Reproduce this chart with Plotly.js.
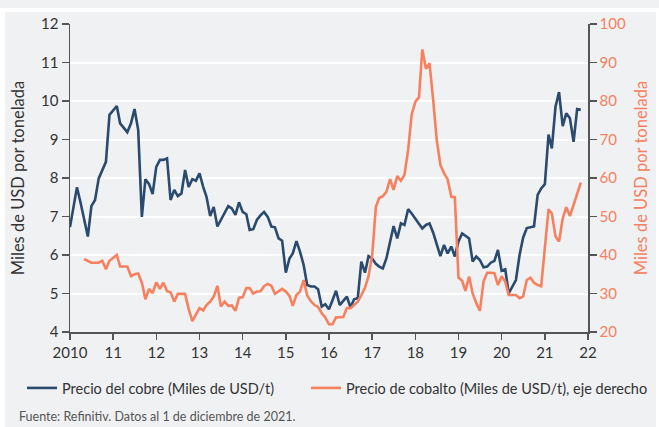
<!DOCTYPE html>
<html><head><meta charset="utf-8">
<script src="https://cdn.plot.ly/plotly-3.0.1.min.js"></script>
<style>
html,body{margin:0;padding:0;background:#ffffff;}
#wrap{position:relative;width:659px;height:427px;overflow:hidden;}
#band1{position:absolute;left:0;top:0;width:659px;height:8px;background:#f0f1f3;}
#band2{position:absolute;left:5px;top:12px;width:651px;height:415px;background:#f0f1f3;}
#chart{position:absolute;left:0;top:0;width:659px;height:427px;}
</style></head>
<body><div id="wrap"><div id="band1"></div><div id="band2"></div><div id="chart"></div></div>
<script>
const copperStart = [2010, 1];
const copper = [6.73,7.25,7.76,7.35,6.9,6.48,7.27,7.43,7.99,8.2,
 8.42,9.64,9.75,9.87,9.42,9.3,9.19,9.42,9.79,9.25,
 6.99,7.97,7.84,7.58,8.29,8.47,8.47,8.51,7.43,7.69,
 7.53,7.6,8.21,7.77,7.97,7.93,8.12,7.77,7.51,7.01,
 7.25,6.74,6.91,7.1,7.27,7.21,7.04,7.37,7.12,7.06,
 6.65,6.67,6.91,7.03,7.12,6.99,6.74,6.72,6.43,6.37,
 5.54,5.91,6.04,6.36,6.09,5.74,5.22,5.18,5.18,5.11,
 4.66,4.72,4.59,4.83,5.07,4.70,4.80,4.92,4.64,4.85,
 4.88,5.83,5.54,5.97,5.91,5.77,5.7,5.65,5.91,6.30,
 6.75,6.43,6.82,6.78,7.19,7.08,6.95,6.8,6.69,6.78,
 6.82,6.58,6.25,5.97,6.26,6.04,6.22,5.96,6.35,6.56,
 6.5,6.43,5.83,5.96,5.87,5.68,5.7,5.8,5.85,6.13,
 5.59,5.63,5.0,5.17,5.35,6.0,6.45,6.7,6.72,6.74,
 7.56,7.73,7.84,9.13,8.77,9.85,10.23,9.35,9.68,9.55,
 8.94,9.79,9.77];
const cobaltStart = [2010, 5];
const cobalt = [38.96,38.5,38.0,38.0,38.0,38.5,36.3,38.5,39.2,40.0,
 37.0,37.0,37.0,34.5,35.0,35.2,32.8,28.5,31.2,30.1,
 32.9,31.2,32.8,30.6,30.3,27.9,29.9,29.9,29.9,26.0,
 22.8,24.5,26.2,25.6,27.0,27.9,29.2,32.0,26.6,27.9,
 26.8,26.9,25.5,28.9,29.0,31.4,31.4,30.0,30.5,30.6,
 31.9,32.5,32.0,29.9,30.5,31.2,30.5,29.4,26.8,29.6,
 30.5,33.5,29.5,28.0,27.0,26.5,24.9,23.8,22.0,22.0,
 23.8,23.8,23.9,26.2,26.2,27.0,27.9,29.6,31.5,34.5,
 40.0,52.5,54.8,55.3,56.4,59.7,56.9,60.5,59.3,60.8,
 67.3,76.5,79.8,81.0,93.4,88.4,89.8,80.3,69.9,63.4,
 61.2,59.7,55.1,55.0,34.2,33.3,30.7,34.4,30.0,27.5,
 25.5,33.1,35.4,35.4,35.3,32.2,34.5,33.1,29.6,29.6,
 29.6,28.8,29.2,33.5,34.1,32.8,32.2,31.9,42.2,51.9,
 50.8,44.8,43.5,49.5,52.4,50.1,53.0,56.0,58.8];
const tickYears = [2010,2011,2012,2013,2014,2015,2016,2017,2018,2019,2020,2021,2022];
const tickLabels = ['2010','11','12','13','14','15','16','17','18','19','20','21','22'];
const copperName = 'Precio del cobre (Miles de USD/t)';
const cobaltName = 'Precio de cobalto (Miles de USD/t), eje derecho';
const yTitle = 'Miles de USD por tonelada';
const sourceText = 'Fuente: Refinitiv. Datos al 1 de diciembre de 2021.';

function months(start, n){
  const out=[];
  for(let i=0;i<n;i++){
    const t=(start[0]*12+start[1]-1)+i;
    const y=Math.floor(t/12), m=t%12+1;
    out.push(y+'-'+(m<10?'0':'')+m+'-01');
  }
  return out;
}
const NAVY='#2a4a6e', SAL='#f7805f', AX='#555555', TXT='#333333';
const FONT='Lato, Roboto, sans-serif';
const PL=70, PR=588, PT=24, PB=332;
const px=v=>(v-PL)/(PR-PL), py=v=>(PB-v)/(PB-PT);

const traces=[
 {x:months(copperStart,copper.length), y:copper, type:'scatter', mode:'lines', name:copperName,
  line:{color:NAVY,width:2.6}, yaxis:'y', legend:'legend'},
 {x:months(cobaltStart,cobalt.length), y:cobalt, type:'scatter', mode:'lines', name:cobaltName,
  line:{color:SAL,width:2.6}, yaxis:'y2', legend:'legend2'}
];
const legBase={orientation:'h', xanchor:'left', yanchor:'middle', y:py(388),
   font:{family:FONT,size:14.5,color:TXT}, bgcolor:'rgba(0,0,0,0)', itemwidth:30};
const layout={
 width:659, height:427,
 margin:{l:PL,r:659-PR,t:PT,b:427-PB, autoexpand:false},
 paper_bgcolor:'rgba(0,0,0,0)', plot_bgcolor:'rgba(0,0,0,0)',
 font:{family:FONT,size:14,color:TXT},
 showlegend:true,
 legend:Object.assign({}, legBase, {x:px(22)}),
 legend2:Object.assign({}, legBase, {x:px(306)}),
 xaxis:{type:'date', range:['2010-01-01','2022-01-01'],
   tickvals:tickYears.map(y=>y+'-01-01'), ticktext:tickLabels,
   showgrid:false, zeroline:false, showline:true, linecolor:AX, linewidth:1.5,
   ticks:'outside', ticklen:6, tickcolor:AX, tickwidth:1.5,
   tickfont:{family:FONT,size:15,color:TXT}},
 yaxis:{range:[4,12], dtick:1, tick0:4, showgrid:true, gridcolor:'#ffffff', gridwidth:2,
   zeroline:false, showline:true, linecolor:AX, linewidth:1.5,
   ticks:'outside', ticklen:7, tickcolor:AX, tickwidth:1.5,
   tickfont:{family:FONT,size:15,color:TXT},
   title:{text:yTitle, font:{family:FONT,size:16.5,color:TXT}, standoff:12}},
 yaxis2:{range:[20,100], dtick:10, tick0:20, overlaying:'y', side:'right', showgrid:false,
   zeroline:false, showline:true, linecolor:AX, linewidth:1.5,
   ticks:'outside', ticklen:7, tickcolor:AX, tickwidth:1.5,
   tickfont:{family:FONT,size:15,color:SAL},
   title:{text:yTitle, font:{family:FONT,size:16.5,color:SAL}, standoff:10}},
 annotations:[{text:sourceText, xref:'paper', yref:'paper', x:px(17), y:py(407), xanchor:'left', yanchor:'top',
   showarrow:false, font:{family:FONT,size:12.5,color:'#555555'}}]
};
Plotly.newPlot('chart',traces,layout,{displayModeBar:false,staticPlot:true});
</script></body></html>
